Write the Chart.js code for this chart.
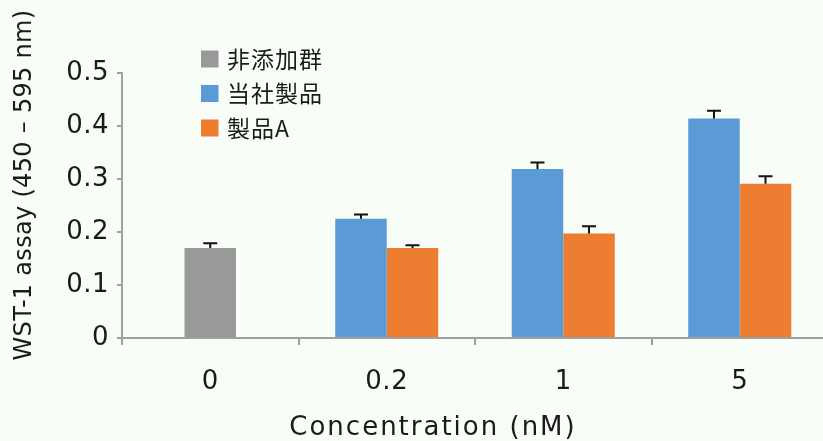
<!DOCTYPE html>
<html>
<head>
<meta charset="utf-8">
<script src="https://cdn.jsdelivr.net/npm/chart.js@4.4.1/dist/chart.umd.min.js"></script>
<style>
  html, body { margin: 0; padding: 0; background: #f8fdf8; overflow: hidden; }
  #wrap { width: 828px; height: 441px; }
</style>
</head>
<body>
<div id="wrap"><canvas id="c"></canvas></div>
<script>
// Data
const categories = ['0', '0.2', '1', '5'];
const seriesNames = ['非添加群', '当社製品', '製品A'];
const controlValues = [0.170, null, null, null];
const oursValues = [null, 0.225, 0.319, 0.414];
const productAValues = [null, 0.170, 0.197, 0.291];
// upper error (SD) per bar
const controlErr = [0.009, null, null, null];
const oursErr = [null, 0.008, 0.012, 0.015];
const productAErr = [null, 0.005, 0.014, 0.014];
const yMin = 0, yMax = 0.5, yStep = 0.1;
const xTitle = 'Concentration (nM)';
const yTitle = 'WST-1 assay (450 – 595 nm)';

const FONT = '"DejaVu Sans", "Noto Sans CJK JP", sans-serif';
const JP_FONT = '"Noto Sans CJK JP", "DejaVu Sans", sans-serif';
const TEXT = '#1a1a1a';
const AXIS = '#a0a0a0';

// slightly wider letter spacing for the tick labels
const spacing = {
  id: 'spacing',
  beforeDraw(chart) { chart.ctx.letterSpacing = '0.5px'; }
};

// Error bars: only the upper half shows above the bar
const errorBars = {
  id: 'errorBars',
  afterDatasetsDraw(chart) {
    const ctx = chart.ctx;
    const y = chart.scales.y;
    ctx.save();
    ctx.strokeStyle = '#111';
    ctx.lineWidth = 2;
    chart.data.datasets.forEach((ds, i) => {
      const meta = chart.getDatasetMeta(i);
      meta.data.forEach((bar, j) => {
        const v = ds.data[j], e = ds.errors[j];
        if (v == null || e == null) return;
        const top = y.getPixelForValue(v + e);
        ctx.beginPath();
        ctx.moveTo(bar.x, bar.y);
        ctx.lineTo(bar.x, top);
        ctx.moveTo(bar.x - 7, top);
        ctx.lineTo(bar.x + 7, top);
        ctx.stroke();
      });
    });
    ctx.restore();
  }
};

// Legend inside the plot (upper left) and the two axis titles
const decorations = {
  id: 'decorations',
  afterDraw(chart) {
    const { ctx, chartArea } = chart;
    ctx.save();
    ctx.font = '23px ' + JP_FONT;
    ctx.letterSpacing = '1px';
    ctx.textBaseline = 'middle';
    ctx.textAlign = 'left';
    chart.data.datasets.forEach((ds, i) => {
      const bx = chartArea.left + 79;
      const cy = chartArea.top - 14 + i * 34.5;
      ctx.fillStyle = ds.backgroundColor;
      ctx.fillRect(bx, cy - 8.5, 17.5, 17);
      ctx.fillStyle = TEXT;
      ctx.fillText(ds.label, bx + 26, cy);
    });

    ctx.textAlign = 'center';
    ctx.fillStyle = TEXT;
    ctx.font = '26px ' + FONT;
    ctx.letterSpacing = '2px';
    ctx.fillText(xTitle, chartArea.left + 311, chartArea.bottom + 90);
    ctx.font = '24px ' + FONT;
    ctx.letterSpacing = '0.3px';
    ctx.translate(25, chartArea.top + 112);
    ctx.rotate(-Math.PI / 2);
    ctx.fillText(yTitle, 0, 0);
    ctx.restore();
  }
};

new Chart(document.getElementById('c'), {
  type: 'bar',
  data: {
    labels: categories,
    datasets: [
      { label: seriesNames[0], data: controlValues, errors: controlErr, backgroundColor: '#999999' },
      { label: seriesNames[1], data: oursValues, errors: oursErr, backgroundColor: '#5b9bd5' },
      { label: seriesNames[2], data: productAValues, errors: productAErr, backgroundColor: '#ed7d31' }
    ]
  },
  options: {
    responsive: true,
    maintainAspectRatio: false,
    animation: false,
    layout: { padding: { top: 73, left: 0, right: 0, bottom: 0 } },
    datasets: {
      bar: { categoryPercentage: 0.584, barPercentage: 1, maxBarThickness: 51.5, skipNull: true }
    },
    plugins: {
      legend: { display: false },
      tooltip: { enabled: false }
    },
    scales: {
      x: {
        offset: true,
        grid: { drawOnChartArea: false, offset: true, tickLength: 7, color: AXIS, lineWidth: 2 },
        border: { color: AXIS, width: 2 },
        ticks: { padding: 22, color: TEXT, font: { family: FONT, size: 26 } },
        afterFit(s) { s.height = 103; }
      },
      y: {
        min: yMin,
        max: yMax,
        grid: { drawOnChartArea: false, tickLength: 5, color: AXIS, lineWidth: 2 },
        border: { color: AXIS, width: 2 },
        ticks: { stepSize: yStep, padding: 8, color: TEXT, font: { family: FONT, size: 26 } },
        afterFit(s) { s.width = 122; }
      }
    }
  },
  plugins: [spacing, errorBars, decorations]
});
</script>
</body>
</html>
